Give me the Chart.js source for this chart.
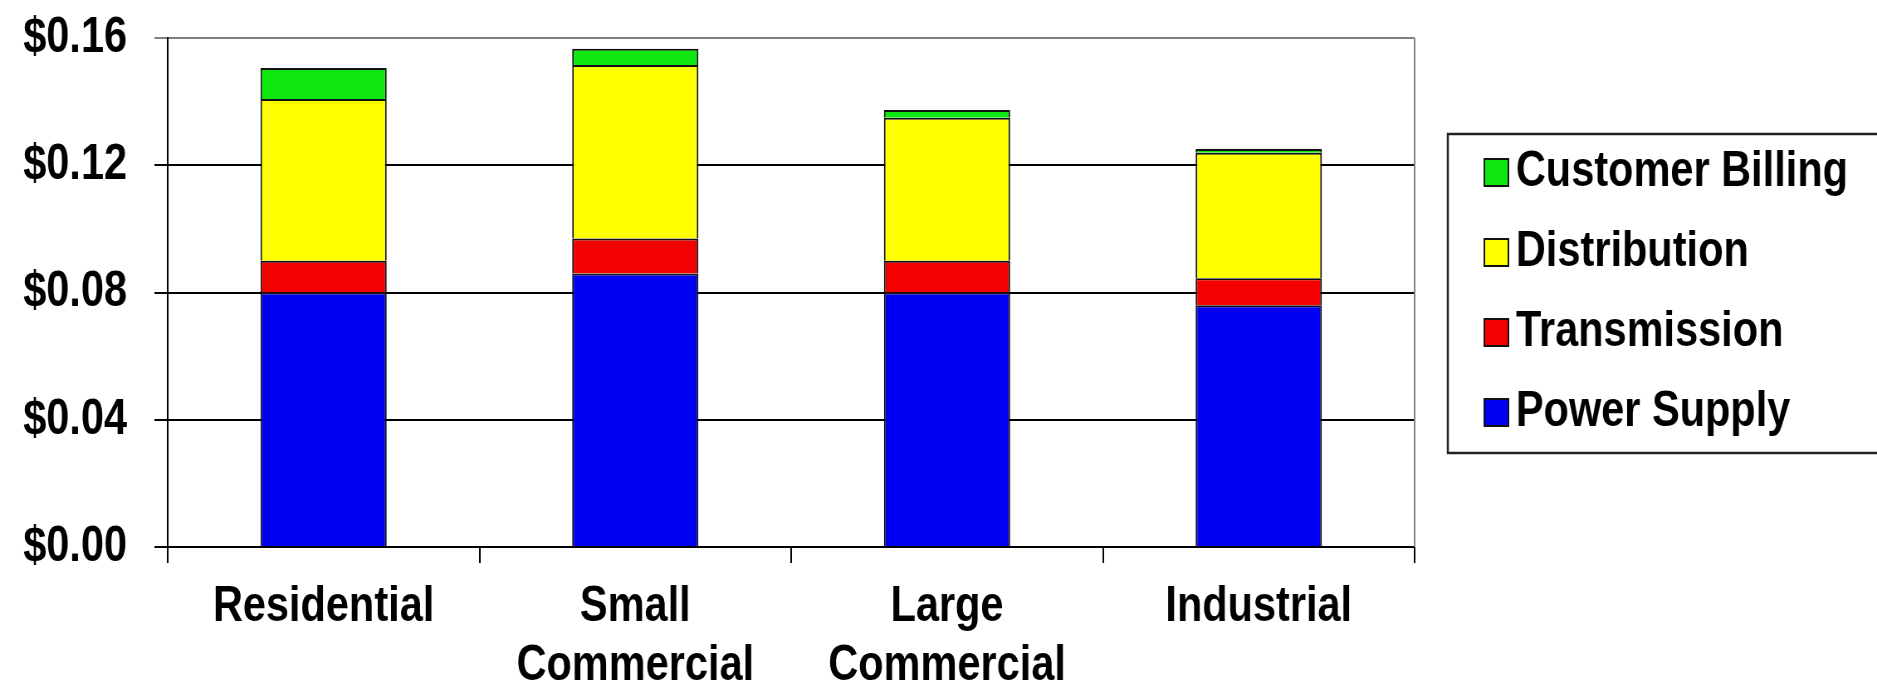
<!DOCTYPE html>
<html>
<head>
<meta charset="utf-8">
<script src="https://cdn.jsdelivr.net/npm/chart.js@4/dist/chart.umd.min.js"></script>
<style>
body{margin:0;background:#fff;overflow:hidden;}
</style>
</head>
<body>
<canvas id="rates" width="2261" height="688" style="display:block;width:1877px;height:688px;"></canvas>
<script>

let categories = ["Residential", ["Small", "Commercial"], ["Large", "Commercial"], "Industrial"];

let powerSupply = [0.080, 0.086, 0.080, 0.076];
let transmission = [0.010, 0.011, 0.010, 0.0085];
let distribution = [0.0508, 0.0545, 0.0449, 0.0394];
let customerBilling = [0.0098, 0.0051, 0.0025, 0.0012];

let yTicks = [0, 0.04, 0.08, 0.12, 0.16];

const font = { family: "'Liberation Sans', Arial, sans-serif", size: 50, weight: "bold" };

// plot frame on the right + boxed legend like the old excel chart
const frame = {
id: "frame",
beforeDatasetsDraw(chart){
let a = chart.chartArea;
let c = chart.ctx;
c.save();
c.strokeStyle = "#808080";
c.lineWidth = 2;
c.beginPath();
c.moveTo(a.right, a.top);
c.lineTo(a.right, a.bottom);
c.stroke();
c.restore();
},
afterDraw(chart){
let c = chart.ctx;
let a = chart.chartArea;
let left = a.right + 40;
c.save();
c.strokeStyle = "#222";
c.lineWidth = 2.5;
c.strokeRect(left, 134, 600, 319);
c.font = "bold 50px 'Liberation Sans', Arial, sans-serif";
c.textBaseline = "middle";
c.fillStyle = "#000";
let items = chart.data.datasets.slice().reverse();
items.forEach((ds, i)=>{
let y = 172 + i * 80;
c.fillStyle = ds.backgroundColor;
c.fillRect(left + 44, y - 13, 29, 27);
c.strokeStyle = "#111";
c.lineWidth = 2;
c.strokeRect(left + 44, y - 13, 29, 27);
c.fillStyle = "#000";
c.fillText(ds.label, left + 82, y);
});
c.restore();
}
};

new Chart(document.getElementById("rates"), {
type: "bar",
data: {
labels: categories,
datasets: [
{ label: "Power Supply", data: powerSupply, backgroundColor: "#0000f5" },
{ label: "Transmission", data: transmission, backgroundColor: "#f50000" },
{ label: "Distribution", data: distribution, backgroundColor: "#ffff00" },
{ label: "Customer Billing", data: customerBilling, backgroundColor: "#10e610" }
].map(d=>Object.assign(d, {
borderColor: "#111",
borderWidth: 2,
barPercentage: 0.405,
categoryPercentage: 1
}))
},
options: {
responsive: false,
animation: false,
devicePixelRatio: 1,
layout: { padding: { top: 38, right: 557, left: 0, bottom: 0 } },
plugins: { legend: { display: false }, tooltip: { enabled: false } },
scales: {
x: {
stacked: true,
grid: { drawOnChartArea: false, drawTicks: true, tickLength: 16, color: "#000", lineWidth: 2, offset: true },
border: { color: "#000", width: 2 },
ticks: { color: "#000", font: Object.assign({ lineHeight: 1.18 }, font), padding: 15, maxRotation: 0, autoSkip: false },
afterFit(scale){ scale.height = 141; scale.paddingLeft = 0; scale.paddingRight = 0; }
},
y: {
stacked: true,
min: 0,
max: 0.16,
afterBuildTicks(scale){ scale.ticks = yTicks.map(v=>({ value: v })); },
grid: {
color: ctx=>ctx.tick && ctx.tick.value === 0.16 ? "#808080" : "#000",
lineWidth: 2,
tickLength: 16
},
border: { color: "#000", width: 2 },
ticks: {
color: "#000",
font: font,
padding: 33,
callback: v=>"$" + Number(v).toFixed(2)
},
afterFit(scale){ scale.width = 202; scale.paddingTop = 0; scale.paddingBottom = 0; }
}
}
},
plugins: [frame]
});
</script>
</body>
</html>
